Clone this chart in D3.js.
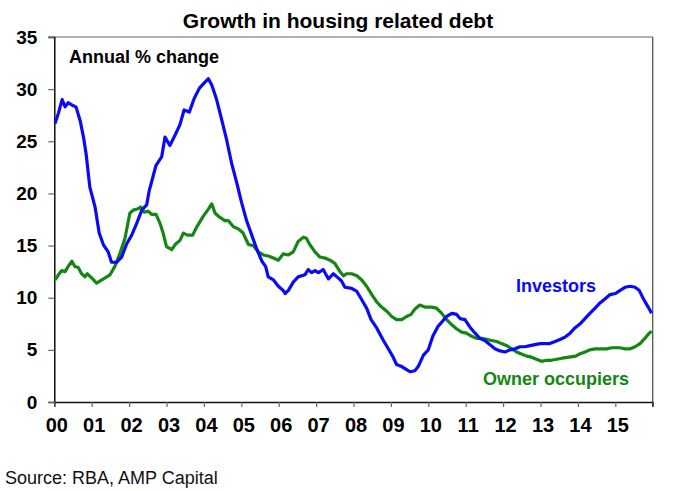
<!DOCTYPE html>
<html>
<head>
<meta charset="utf-8">
<script src="https://cdn.jsdelivr.net/npm/d3@7"></script>
<style>
  html, body { margin: 0; padding: 0; background: #fff; }
  svg { display: block; font-family: "Liberation Sans", Arial, sans-serif; }
</style>
</head>
<body>
<svg id="chart" width="675" height="491"></svg>
<script>
// ---- Data ----
const title = "Growth in housing related debt";
const subtitle = "Annual % change";
const source = "Source: RBA, AMP Capital";
const yTicks = [0, 5, 10, 15, 20, 25, 30, 35];
const xTickYears = [2000,2001,2002,2003,2004,2005,2006,2007,2008,2009,2010,2011,2012,2013,2014,2015,2016];
const xTickLabels = ["00","01","02","03","04","05","06","07","08","09","10","11","12","13","14","15",""];

// years elapsed since Jan 2000
const investorT = [0.02,0.11,0.21,0.29,0.37,0.51,0.58,0.69,0.78,0.85,0.95,1.09,1.20,1.31,1.44,1.53,1.67,1.80,1.94,2.07,2.20,2.34,2.47,2.54,2.72,2.87,2.96,3.09,3.23,3.36,3.47,3.61,3.74,3.88,4.01,4.12,4.21,4.34,4.48,4.61,4.74,4.88,5.01,5.14,5.28,5.41,5.55,5.65,5.72,5.86,5.99,6.12,6.17,6.26,6.39,6.52,6.70,6.79,6.88,6.97,7.06,7.19,7.33,7.46,7.59,7.68,7.77,7.95,8.09,8.22,8.35,8.47,8.62,8.80,8.93,9.06,9.15,9.29,9.42,9.51,9.64,9.73,9.87,10.00,10.12,10.25,10.49,10.63,10.76,10.85,10.98,11.11,11.25,11.38,11.51,11.65,11.78,11.92,12.05,12.18,12.32,12.45,12.58,12.72,12.85,12.99,13.12,13.25,13.39,13.52,13.65,13.79,13.92,14.06,14.19,14.32,14.46,14.59,14.73,14.86,15.00,15.13,15.26,15.40,15.53,15.64,15.75,15.88,15.97];
const investorV = [26.7,27.7,29.0,28.3,28.7,28.4,28.3,27.0,25.4,23.8,20.6,18.7,16.2,15.1,14.4,13.4,13.4,13.9,15.2,16.0,17.1,18.4,18.9,20.3,22.7,23.5,25.4,24.6,25.6,26.6,28.0,27.8,29.1,30.1,30.6,31.0,30.4,29.0,27.0,25.1,22.9,21.0,19.1,17.4,16.0,14.7,13.5,13.0,12.0,11.7,11.1,10.7,10.4,10.7,11.5,12.0,12.2,12.7,12.4,12.6,12.4,12.7,11.8,12.3,11.9,11.6,11.0,10.9,10.6,9.8,9.0,7.9,7.1,5.9,5.1,4.3,3.6,3.4,3.1,2.9,3.0,3.4,4.5,5.0,6.3,7.2,8.2,8.5,8.4,8.0,7.9,7.2,6.6,6.1,5.9,5.5,5.1,4.9,4.8,5.0,5.1,5.3,5.3,5.4,5.5,5.6,5.6,5.6,5.8,6.0,6.2,6.6,7.1,7.5,8.0,8.5,9.0,9.5,9.9,10.3,10.4,10.7,11.0,11.1,11.0,10.7,9.9,9.1,8.5];

const ownerT = [0.02,0.11,0.20,0.29,0.37,0.47,0.55,0.64,0.73,0.82,0.88,1.00,1.13,1.27,1.40,1.49,1.62,1.76,1.89,2.02,2.11,2.22,2.31,2.40,2.51,2.60,2.72,2.83,2.91,3.00,3.14,3.23,3.36,3.45,3.56,3.70,3.81,3.98,4.12,4.21,4.30,4.43,4.56,4.65,4.79,4.92,5.05,5.19,5.32,5.45,5.59,5.72,5.86,5.99,6.12,6.26,6.39,6.52,6.66,6.74,6.83,6.97,7.10,7.24,7.37,7.50,7.64,7.73,7.82,7.95,8.09,8.22,8.35,8.49,8.62,8.75,8.89,9.02,9.15,9.29,9.42,9.54,9.64,9.77,9.91,10.09,10.22,10.36,10.49,10.63,10.76,10.89,11.02,11.16,11.29,11.43,11.56,11.69,11.83,11.96,12.10,12.23,12.36,12.49,12.63,12.76,12.89,13.03,13.16,13.29,13.43,13.58,13.76,13.94,14.04,14.19,14.32,14.46,14.59,14.77,14.90,15.13,15.26,15.40,15.53,15.66,15.79,15.88,15.97];
const ownerV = [11.7,12.2,12.6,12.5,13.0,13.5,13.0,12.9,12.3,12.0,12.3,11.9,11.4,11.7,12.0,12.2,13.0,14.3,15.7,18.1,18.4,18.5,18.7,18.2,18.3,18.0,18.0,17.1,16.2,14.9,14.6,15.1,15.5,16.2,16.0,16.0,16.8,17.8,18.5,19.0,18.1,17.7,17.4,17.4,16.8,16.6,16.2,15.1,15.0,14.4,14.1,14.0,13.8,13.6,14.2,14.1,14.4,15.4,15.8,15.7,15.1,14.4,13.9,13.8,13.6,13.3,12.5,12.1,12.3,12.3,12.1,11.7,11.1,10.3,9.6,9.1,8.7,8.2,7.9,7.9,8.2,8.4,8.9,9.3,9.1,9.1,9.0,8.5,7.9,7.4,7.0,6.7,6.6,6.3,6.1,6.1,6.0,5.9,5.8,5.6,5.4,5.1,4.8,4.6,4.4,4.3,4.1,3.9,4.0,4.0,4.1,4.2,4.3,4.4,4.6,4.8,5.0,5.1,5.1,5.1,5.2,5.2,5.1,5.1,5.3,5.6,6.1,6.5,6.8];

const seriesNames = ["Investors", "Owner occupiers"];
const seriesColors = ["#0a0af5", "#138613"];

// ---- Layout ----
const svg = d3.select("#chart");
const plotLeft = 54.3, plotRight = 652.7, plotTop = 37, plotBottom = 402;

const x = d3.scaleLinear().domain([2000, 2016]).range([plotLeft, plotRight]);
const y = d3.scaleLinear().domain([0, 35]).range([plotBottom, plotTop]);

// frame (top & right)
svg.append("line").attr("x1", plotLeft - 6).attr("x2", plotRight).attr("y1", plotTop).attr("y2", plotTop)
  .attr("stroke", "#999").attr("stroke-width", 1.5);
svg.append("line").attr("x1", plotRight).attr("x2", plotRight).attr("y1", plotTop).attr("y2", plotBottom + 5)
  .attr("stroke", "#555").attr("stroke-width", 1.3);

// Y axis
const yAxis = svg.append("g").attr("transform", `translate(${plotLeft},0)`)
  .call(d3.axisLeft(y).tickValues(yTicks).tickSize(6).tickPadding(11).tickFormat(d3.format("d")));
yAxis.select(".domain").attr("stroke", "#111").attr("stroke-width", 1.5);
yAxis.selectAll(".tick line").attr("stroke", "#666").attr("stroke-width", 1.2);
yAxis.selectAll(".tick text").attr("font-size", "19px").attr("font-weight", "bold")
  .attr("fill", "#000").attr("font-family", "Liberation Sans, Arial, sans-serif");

// X axis
const xAxis = svg.append("g").attr("transform", `translate(0,${plotBottom})`)
  .call(d3.axisBottom(x).tickValues(xTickYears).tickSize(5).tickPadding(11)
    .tickFormat((d, i) => xTickLabels[i]));
xAxis.select(".domain").attr("stroke", "#111").attr("stroke-width", 1.5);
xAxis.selectAll(".tick line").attr("stroke", "#666").attr("stroke-width", 1.2);
xAxis.selectAll(".tick text").attr("font-size", "20px").attr("font-weight", "bold")
  .attr("fill", "#000").attr("dx", 2).attr("font-family", "Liberation Sans, Arial, sans-serif");

// Lines
const line = d3.line().x(d => x(2000 + d[0])).y(d => y(d[1])).curve(d3.curveLinear);
const invData = investorT.map((t, i) => [t, investorV[i]]);
const ownData = ownerT.map((t, i) => [t, ownerV[i]]);

svg.append("path").datum(ownData).attr("d", line).attr("fill", "none")
  .attr("stroke", seriesColors[1]).attr("stroke-width", 3.2).attr("stroke-linejoin", "round");
svg.append("path").datum(invData).attr("d", line).attr("fill", "none")
  .attr("stroke", seriesColors[0]).attr("stroke-width", 3.2).attr("stroke-linejoin", "round");

// Texts
svg.append("text").attr("x", 338).attr("y", 28).attr("text-anchor", "middle")
  .attr("font-size", "21px").attr("font-weight", "bold").text(title);
svg.append("text").attr("x", 69).attr("y", 63)
  .attr("font-size", "18px").attr("font-weight", "bold").text(subtitle);
svg.append("text").attr("x", 516).attr("y", 292)
  .attr("font-size", "18px").attr("font-weight", "bold").attr("fill", seriesColors[0]).text(seriesNames[0]);
svg.append("text").attr("x", 483).attr("y", 385)
  .attr("font-size", "18px").attr("font-weight", "bold").attr("fill", seriesColors[1]).text(seriesNames[1]);
svg.append("text").attr("x", 5).attr("y", 484)
  .attr("font-size", "18px").attr("fill", "#111").text(source);
</script>
</body>
</html>
